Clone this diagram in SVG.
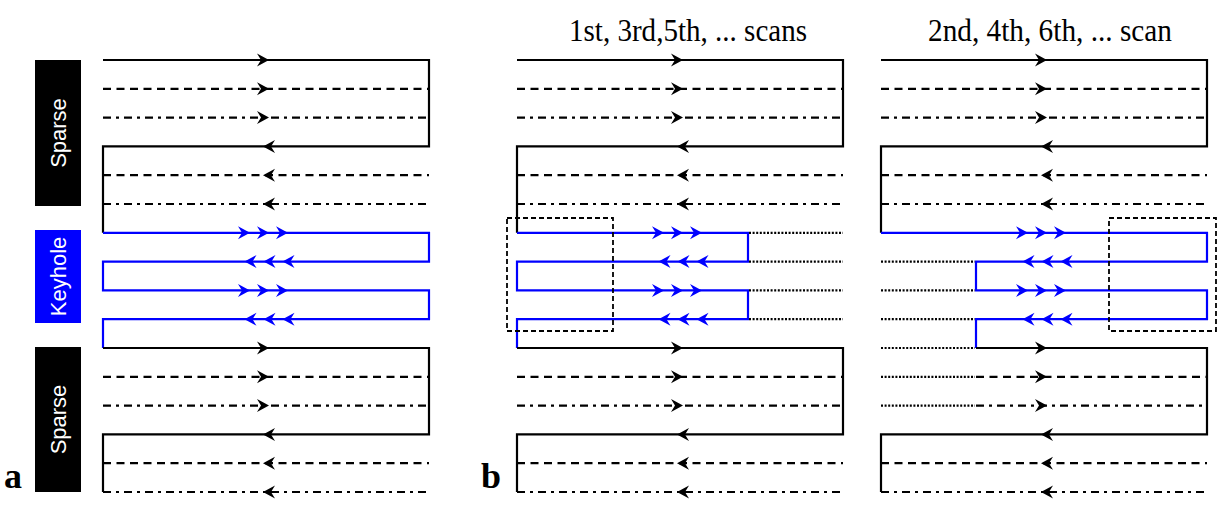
<svg xmlns="http://www.w3.org/2000/svg" xmlns:xlink="http://www.w3.org/1999/xlink" width="1226" height="511" viewBox="0 0 1226 511">
<style>
.k{fill:none;stroke:#000;stroke-width:2.2}
.bl{fill:none;stroke:#0000ff;stroke-width:2.2}
.da{fill:none;stroke:#000;stroke-width:2.2;stroke-dasharray:8 5.5}
.dd{fill:none;stroke:#000;stroke-width:2.2;stroke-dasharray:8 5 3 5}
.dt{fill:none;stroke:#000;stroke-width:2.2;stroke-dasharray:2 1.6}
.box{fill:none;stroke:#000;stroke-width:1.8;stroke-dasharray:5 3}
.ak{fill:#000}
.ab{fill:#0000ff}
.lab{font-family:"Liberation Sans",Arial,sans-serif;font-size:22px;fill:#fff;text-anchor:middle}
.ttl{font-family:"Liberation Serif","Times New Roman",serif;font-size:31px;fill:#000;text-anchor:middle}
.pl{font-family:"Liberation Serif","Times New Roman",serif;font-size:36px;font-weight:bold;fill:#000}
</style>
<defs>
<path id="hr" d="M0,0 L-12,-6.5 L-8,0 L-12,6.5 Z"/>
<path id="hl" d="M0,0 L12,-6.5 L8,0 L12,6.5 Z"/>
<g id="arrows">
<g class="ak">
<use href="#hr" x="269" y="60"/><use href="#hr" x="269" y="88.8"/><use href="#hr" x="269" y="117.6"/>
<use href="#hl" x="263" y="146.4"/><use href="#hl" x="263" y="175.2"/><use href="#hl" x="263" y="204"/>
<use href="#hr" x="269" y="348"/><use href="#hr" x="269" y="376.8"/><use href="#hr" x="269" y="405.6"/>
<use href="#hl" x="263" y="434.4"/><use href="#hl" x="263" y="463.2"/><use href="#hl" x="263" y="492"/>
</g>
<g class="ab">
<use href="#hr" x="250" y="232.8"/><use href="#hr" x="269" y="232.8"/><use href="#hr" x="288" y="232.8"/>
<use href="#hl" x="244.5" y="261.6"/><use href="#hl" x="263.5" y="261.6"/><use href="#hl" x="282.5" y="261.6"/>
<use href="#hr" x="250" y="290.4"/><use href="#hr" x="269" y="290.4"/><use href="#hr" x="288" y="290.4"/>
<use href="#hl" x="244.5" y="319.2"/><use href="#hl" x="263.5" y="319.2"/><use href="#hl" x="282.5" y="319.2"/>
</g>
</g>
</defs>
<rect width="1226" height="511" fill="#fff"/>

<!-- Panel a labels -->
<g id="label-sparse-top">
<rect x="35" y="60" width="46" height="146" fill="#000"/>
<text class="lab" transform="translate(58,133) rotate(-90)" y="8">Sparse</text>
</g>
<g id="label-keyhole">
<rect x="35" y="230" width="46" height="93" fill="#0000ff"/>
<text class="lab" transform="translate(58,276.5) rotate(-90)" y="8">Keyhole</text>
</g>
<g id="label-sparse-bottom">
<rect x="35" y="347" width="46" height="145" fill="#000"/>
<text class="lab" transform="translate(58,419.5) rotate(-90)" y="8">Sparse</text>
</g>
<text class="pl" x="4" y="488">a</text>
<text class="pl" x="481" y="488">b</text>

<!-- Titles -->
<text class="ttl" x="688" y="41" textLength="238" lengthAdjust="spacingAndGlyphs">1st, 3rd,5th, ... scans</text>
<text class="ttl" x="1050" y="41" textLength="244" lengthAdjust="spacingAndGlyphs">2nd, 4th, 6th, ... scan</text>

<g id="connectors">
<!-- Panel a -->
<g id="panel-a">
<path class="k" d="M103,60 H429 V146.4 H103 V232.8"/>
<path class="bl" d="M103,232.8 H429 V261.6 H103 V290.4 H429 V319.2 H103 V348"/>
<path class="k" d="M103,348 H429 V434.4 H103 V492"/>
<path class="da" d="M103,88.8 H429 M103,175.2 H429 M103,376.8 H429 M103,463.2 H429"/>
<path class="dd" d="M103,117.6 H429 M103,204 H429 M103,405.6 H429 M103,492 H429"/>
<use href="#arrows"/>
</g>
<!-- Panel b left -->
<g id="panel-b-odd">
<path class="k" d="M517,60 H843 V146.4 H517 V232.8"/>
<path class="bl" d="M517,232.8 H748 V261.6 H517 V290.4 H748 V319.2 H517 V348"/>
<path class="k" d="M517,348 H843 V434.4 H517 V492"/>
<path class="da" d="M517,88.8 H843 M517,175.2 H843 M517,376.8 H843 M517,463.2 H843"/>
<path class="dd" d="M517,117.6 H843 M517,204 H843 M517,405.6 H843 M517,492 H843"/>
<path class="dt" d="M749,232.8 H843 M749,261.6 H843 M749,290.4 H843 M749,319.2 H843"/>
<rect class="box" x="507" y="218" width="106" height="113"/>
<use href="#arrows" transform="translate(414,0)"/>
</g>
<!-- Panel b right -->
<g id="panel-b-even">
<path class="k" d="M881,60 H1207 V146.4 H881 V232.8"/>
<path class="bl" d="M881,232.8 H1207 V261.6 H976 V290.4 H1207 V319.2 H976 V348"/>
<path class="k" d="M976,348 H1207 V434.4 H881 V492"/>
<path class="da" d="M881,88.8 H1207 M881,175.2 H1207 M976,376.8 H1207 M881,463.2 H1207"/>
<path class="dd" d="M881,117.6 H1207 M881,204 H1207 M976,405.6 H1207 M881,492 H1207"/>
<path class="dt" d="M881,261.6 H975 M881,290.4 H975 M881,319.2 H975 M881,348 H975 M881,376.8 H975 M881,405.6 H975"/>
<rect class="box" x="1109" y="218" width="107" height="113"/>
<use href="#arrows" transform="translate(778,0)"/>
</g>
</g>
</svg>
